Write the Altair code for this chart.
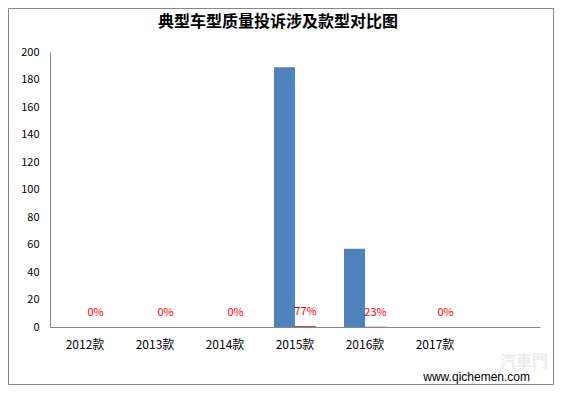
import altair as alt
import pandas as pd

categories = ["2012款", "2013款", "2014款", "2015款", "2016款", "2017款", " "]
series_names = ["投诉数量", "占比"]
counts = [0, 0, 0, 189, 57, 0]
shares = [0.0, 0.0, 0.0, 0.77, 0.23, 0.0]
share_labels = ["0%", "0%", "0%", "77%", "23%", "0%"]
y_ticks = [0, 20, 40, 60, 80, 100, 120, 140, 160, 180, 200]
title_text = "典型车型质量投诉涉及款型对比图"

rows = []
for i in range(6):
    rows.append({"cat": categories[i], "series": series_names[0], "value": counts[i], "label": ""})
    rows.append({"cat": categories[i], "series": series_names[1], "value": shares[i], "label": share_labels[i]})
df = pd.DataFrame(rows)

FONT = "Noto Sans CJK SC"

x_enc = alt.X("cat:N", scale=alt.Scale(domain=categories, paddingInner=0.4, paddingOuter=0.2),
              axis=alt.Axis(title=None, labelAngle=0, ticks=False, labelPadding=12,
                            labelFontSize=12, labelColor="#000000", labelFont=FONT,
                            domainColor="#868686"))
xo_enc = alt.XOffset("series:N", scale=alt.Scale(domain=series_names, paddingInner=0))
y_enc = alt.Y("value:Q", scale=alt.Scale(domain=[0, 200], nice=False),
              axis=alt.Axis(title=None, values=y_ticks, grid=False, ticks=False, labelPadding=11,
                            labelFontSize=11, labelColor="#000000", labelFont=FONT,
                            domainColor="#868686"))

bars = alt.Chart(df).mark_bar().encode(
    x=x_enc, xOffset=xo_enc, y=y_enc,
    color=alt.Color("series:N", scale=alt.Scale(domain=series_names, range=["#4F81BD", "#C0504D"]), legend=None),
)

labels = alt.Chart(df).transform_filter(alt.datum.series == series_names[1]).mark_text(
    color="#FF0000", fontSize=11, font=FONT, baseline="middle", dy=-14
).encode(x=x_enc, xOffset=xo_enc, y=y_enc, text="label:N")

frame_df = pd.DataFrame({"k": [1]})
frame = alt.Chart(frame_df).mark_rect(fill=None, stroke="#868686", strokeWidth=1).encode(
    x=alt.value(-41.5), x2=alt.value(503.5), y=alt.value(-43.5), y2=alt.value(332.5)
)

title_df = pd.DataFrame({"t": [title_text]})
title = alt.Chart(title_df).mark_text(fontSize=16, font=FONT, color="#000000", fontWeight="bold",
                                      align="center", baseline="middle").encode(
    x=alt.value(228), y=alt.value(-30), text="t:N")

wm_df = pd.DataFrame({"t": ["汽車門"]})
wm = alt.Chart(wm_df).mark_text(fontSize=16, font=FONT, color="#ececec", fontWeight="bold", align="center",
                                baseline="middle").encode(
    x=alt.value(474), y=alt.value(310), text="t:N")

site_df = pd.DataFrame({"t": ["www.qichemen.com"]})
site = alt.Chart(site_df).mark_text(fontSize=12, font="Liberation Sans", color="#000000", align="right",
                                    baseline="middle").encode(
    x=alt.value(480), y=alt.value(325), text="t:N")

chart = alt.layer(frame, wm, bars, labels, site, title).properties(
    width=490, height=275,
    background="white",
    autosize=alt.AutoSizeParams(type="none"),
    padding={"left": 42, "top": 44, "right": 14, "bottom": 58},
).configure_view(strokeWidth=0, stroke="transparent")

chart.save("out.html", embed_options={"renderer": "svg", "actions": False})
